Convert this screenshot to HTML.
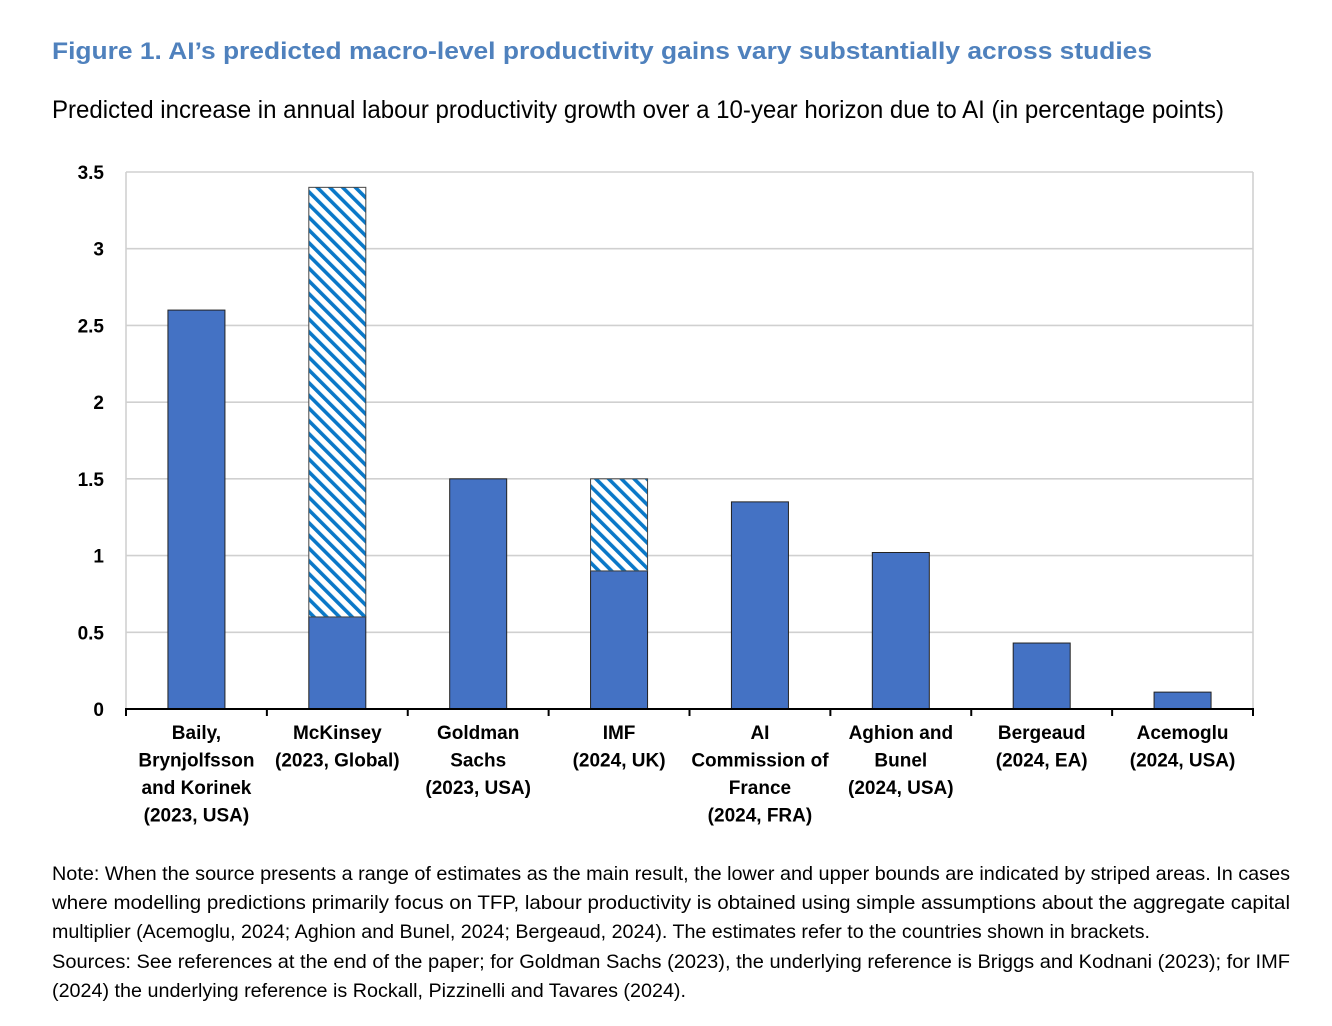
<!DOCTYPE html>
<html><head><meta charset="utf-8"><style>
html,body{margin:0;padding:0;background:#fff;}
svg{display:block;font-family:"Liberation Sans",Arial,sans-serif;}
</style></head><body>
<svg id="chart" width="1332" height="1026" viewBox="0 0 1332 1026">
<defs>
<pattern id="stripes" patternUnits="userSpaceOnUse" width="9" height="9" patternTransform="rotate(-45)">
<rect width="9" height="9" fill="#fff"/>
<rect x="0" y="0" width="3.6" height="9" fill="#0a78c8"/>
</pattern>
</defs>
<text x="52" y="59" font-size="24" font-weight="bold" fill="#4f81bd" textLength="1100" lengthAdjust="spacingAndGlyphs">Figure 1. AI’s predicted macro-level productivity gains vary substantially across studies</text>
<text x="52" y="118" font-size="25" fill="#000" textLength="1172" lengthAdjust="spacingAndGlyphs">Predicted increase in annual labour productivity growth over a 10-year horizon due to AI (in percentage points)</text>
<g id="plot"></g>
<g font-size="19.5" fill="#000">
<text x="52" y="880" textLength="1238" lengthAdjust="spacingAndGlyphs">Note: When the source presents a range of estimates as the main result, the lower and upper bounds are indicated by striped areas. In cases</text>
<text x="52" y="909" textLength="1238" lengthAdjust="spacingAndGlyphs">where modelling predictions primarily focus on TFP, labour productivity is obtained using simple assumptions about the aggregate capital</text>
<text x="52" y="938" textLength="1098" lengthAdjust="spacingAndGlyphs">multiplier (Acemoglu, 2024; Aghion and Bunel, 2024; Bergeaud, 2024). The estimates refer to the countries shown in brackets.</text>
<text x="52" y="968" textLength="1238" lengthAdjust="spacingAndGlyphs">Sources: See references at the end of the paper; for Goldman Sachs (2023), the underlying reference is Briggs and Kodnani (2023); for IMF</text>
<text x="52" y="997" textLength="634" lengthAdjust="spacingAndGlyphs">(2024) the underlying reference is Rockall, Pizzinelli and Tavares (2024).</text>
</g>
</svg>
<script>
const categories = [
 ["Baily,","Brynjolfsson","and Korinek","(2023, USA)"],
 ["McKinsey","(2023, Global)"],
 ["Goldman","Sachs","(2023, USA)"],
 ["IMF","(2024, UK)"],
 ["AI","Commission of","France","(2024, FRA)"],
 ["Aghion and","Bunel","(2024, USA)"],
 ["Bergeaud","(2024, EA)"],
 ["Acemoglu","(2024, USA)"]
];
const lowerValues = [2.6, 0.6, 1.5, 0.9, 1.35, 1.02, 0.43, 0.11];
const upperValues = [2.6, 3.4, 1.5, 1.5, 1.35, 1.02, 0.43, 0.11];
const yTicks = [0, 0.5, 1, 1.5, 2, 2.5, 3, 3.5];
const yTickLabels = ["0","0.5","1","1.5","2","2.5","3","3.5"];

const NS = "http://www.w3.org/2000/svg";
const L = 126, R = 1253, T = 172, B = 709, yMax = 3.5;
const y = v => B - (v / yMax) * (B - T);
const band = (R - L) / categories.length;
const xc = i => L + band * (i + 0.5);
const bw = 57;
const g = document.getElementById('plot');
function mk(tag, attrs) { const e = document.createElementNS(NS, tag); for (const k in attrs) e.setAttribute(k, attrs[k]); g.appendChild(e); return e; }

yTicks.forEach((t, i) => {
  if (t > 0) {
    const gl = mk('line', {x1: L, x2: R, y1: y(t), y2: y(t), stroke: '#d0d0d0', 'stroke-width': 1.6});
    
    
  }
  const tl = mk('text', {x: 104, y: y(t) + 7, 'font-size': 19, 'font-weight': 'bold', 'text-anchor': 'end'});
  tl.textContent = yTickLabels[i];
  
  
});
const lb = mk('line', {x1: L, x2: L, y1: T, y2: B, stroke: '#d0d0d0', 'stroke-width': 1.6});


const rb = mk('line', {x1: R, x2: R, y1: T, y2: B, stroke: '#d0d0d0', 'stroke-width': 1.6});



categories.forEach((c, i) => {
  const x0 = xc(i) - bw / 2;
  const b = mk('rect', {x: x0, y: y(lowerValues[i]), width: bw, height: B - y(lowerValues[i]), fill: '#4472c4', stroke: '#222', 'stroke-width': 1});
  
  
  if (upperValues[i] > lowerValues[i]) {
    const s = mk('rect', {x: x0, y: y(upperValues[i]), width: bw, height: y(lowerValues[i]) - y(upperValues[i]), fill: 'url(#stripes)', stroke: '#444', 'stroke-width': 1});
    
    
  }
  c.forEach((ln, j) => {
    const t = mk('text', {x: xc(i), y: 739 + j * 27.5, 'font-size': 19, 'font-weight': 'bold', 'text-anchor': 'middle'});
    t.textContent = ln;
    
    
  });
});
for (let i = 0; i <= categories.length; i++) {
  const tk = mk('line', {x1: L + band * i, x2: L + band * i, y1: B, y2: B + 7, stroke: '#000', 'stroke-width': 2});
  
  
}
const ax = mk('line', {x1: L - 1, x2: R + 1, y1: B, y2: B, stroke: '#000', 'stroke-width': 2});


</script>
</body></html>
